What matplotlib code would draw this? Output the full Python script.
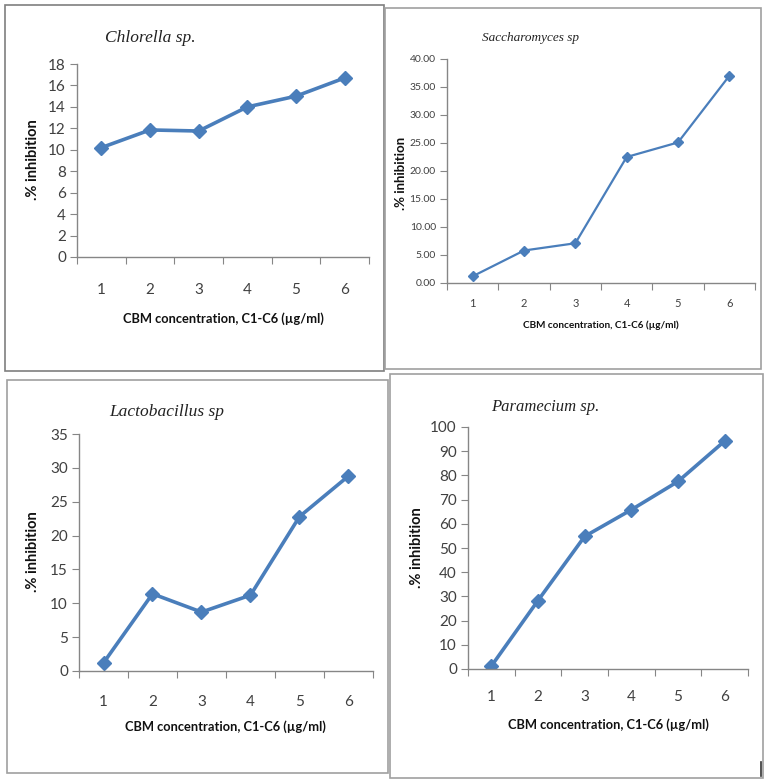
import matplotlib
matplotlib.use('Agg')
import matplotlib.pyplot as plt
from matplotlib.patches import Rectangle
from matplotlib.lines import Line2D

W, H = 771, 779

conc = [1, 2, 3, 4, 5, 6]
chlorella = [10.2, 11.85, 11.75, 14.0, 15.0, 16.7]
saccharomyces = [1.2, 5.8, 7.1, 22.5, 25.1, 37.0]
lactobacillus = [1.2, 11.4, 8.7, 11.2, 22.8, 28.8]
paramecium = [1.2, 28.3, 54.8, 65.8, 77.5, 94.2]

xlabel = 'CBM concentration, C1-C6 (µg/ml)'
ylabel = '.% inhibition'
blue = '#4a7ebb'
grey = '#868686'
txt = '#404040'


def rect(l, t, r, b):
    return [l / W, 1 - b / H, (r - l) / W, (b - t) / H]


def fx(x):
    return x / W


def fy(y):
    return 1 - y / H


fig = plt.figure(figsize=(W / 100, H / 100), dpi=100)

# panel frames
for l, t, r, b, c in [(5, 5, 384, 371, '#7f7f7f'), (385, 8, 761, 369, '#a0a0a0'),
                      (7, 380, 388, 773, '#a0a0a0'), (390, 374, 763, 778, '#a0a0a0')]:
    fig.patches.append(Rectangle((fx(l), fy(b)), (r - l) / W, (b - t) / H,
                                 transform=fig.transFigure, fill=False,
                                 edgecolor=c, lw=1.2))
fig.add_artist(Line2D([fx(761), fx(761)], [fy(762), fy(776)], color='#333333', lw=1.2))

panels = [
    dict(title='Chlorella sp.', y=chlorella, box=(77, 64, 369, 257), ymax=18, step=2,
         fmt='{:.0f}', lw=2.6, ms=7, fs=11, pad=19, xl=9.3, yl=10.5, tfs=12.5,
         tpos=(150, 38), ylpos=(33, 160), xlpos=(223, 319)),
    dict(title='Saccharomyces sp', y=saccharomyces, box=(447, 59, 755, 283), ymax=40, step=5,
         fmt='{:.2f}', lw=1.6, ms=5, fs=7.5, pad=11, xl=7.2, yl=9.5, tfs=9.5,
         tpos=(531, 38), ylpos=(401, 173), xlpos=(601, 325)),
    dict(title='Lactobacillus sp', y=lactobacillus, box=(79, 434, 373, 671), ymax=35, step=5,
         fmt='{:.0f}', lw=2.6, ms=7, fs=11, pad=17, xl=9.3, yl=10.5, tfs=12.5,
         tpos=(167, 412), ylpos=(33, 552), xlpos=(225, 727)),
    dict(title='Paramecium sp.', y=paramecium, box=(468, 427, 748, 669), ymax=100, step=10,
         fmt='{:.0f}', lw=2.6, ms=7, fs=11, pad=15, xl=9.3, yl=10.5, tfs=12,
         tpos=(545, 407), ylpos=(417, 548), xlpos=(608, 725)),
]

fam = ['Lato', 'DejaVu Sans']

for p in panels:
    ax = fig.add_axes(rect(*p['box']))
    ax.plot(conc, p['y'], color=blue, lw=p['lw'], marker='D', ms=p['ms'],
            markeredgecolor=blue, markerfacecolor=blue)
    ax.set_xlim(0.5, 6.5)
    ax.set_ylim(0, p['ymax'])
    yt = list(range(0, p['ymax'] + 1, p['step']))
    ax.set_yticks(yt)
    ax.set_yticklabels([p['fmt'].format(v) for v in yt], family=fam,
                       fontsize=p['fs'], color=txt)
    ax.set_xticks([0.5, 1.5, 2.5, 3.5, 4.5, 5.5, 6.5])
    ax.set_xticklabels([])
    ax.set_xticks(conc, minor=True)
    ax.set_xticklabels([str(c) for c in conc], minor=True, family=fam,
                       fontsize=p['fs'] if p['fs'] > 9 else 8, color=txt)
    ax.tick_params(axis='x', which='minor', length=0, pad=p['pad'])
    ax.tick_params(axis='x', which='major', length=5, color=grey, direction='out')
    ax.tick_params(axis='y', length=5, color=grey, direction='out', pad=3)
    for s in ['top', 'right']:
        ax.spines[s].set_visible(False)
    for s in ['left', 'bottom']:
        ax.spines[s].set_color(grey)
        ax.spines[s].set_linewidth(1)
    ax.patch.set_alpha(0)

    fig.text(fx(p['tpos'][0]), fy(p['tpos'][1]), p['title'], ha='center', va='center',
             family='Liberation Serif', style='italic', fontsize=p['tfs'],
             color='#222222')
    fig.text(fx(p['ylpos'][0]), fy(p['ylpos'][1]), ylabel, ha='center', va='center',
             rotation=90, family=fam, fontweight='bold',
             fontsize=p['yl'], color='#111111')
    fig.text(fx(p['xlpos'][0]), fy(p['xlpos'][1]), xlabel, ha='center', va='center',
             family=fam, fontweight='bold', fontsize=p['xl'],
             color='#111111')

fig.savefig('out.png', dpi=100)
